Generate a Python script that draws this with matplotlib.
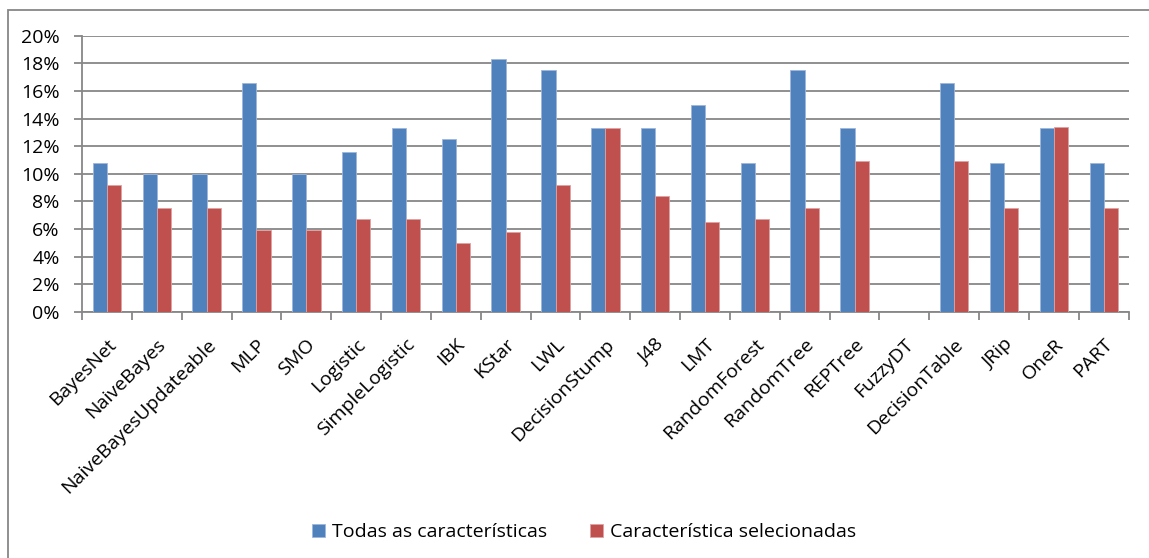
import matplotlib
matplotlib.use("Agg")
from matplotlib import pyplot as plt
from matplotlib.patches import Rectangle
from matplotlib.ticker import FuncFormatter, MultipleLocator
import matplotlib.transforms as mtransforms
import numpy as np

classifiers = ["BayesNet", "NaiveBayes", "NaiveBayesUpdateable", "MLP", "SMO",
               "Logistic", "SimpleLogistic", "IBK", "KStar", "LWL",
               "DecisionStump", "J48", "LMT", "RandomForest", "RandomTree",
               "REPTree", "FuzzyDT", "DecisionTable", "JRip", "OneR", "PART"]
todas = [10.8, 10.0, 10.0, 16.6, 10.0, 11.6, 13.3, 12.5, 18.3, 17.5,
         13.3, 13.3, 15.0, 10.8, 17.5, 13.3, 0.0, 16.6, 10.8, 13.3, 10.8]
selecionadas = [9.2, 7.5, 7.5, 5.9, 5.9, 6.7, 6.7, 5.0, 5.8, 9.2,
                13.3, 8.4, 6.5, 6.7, 7.5, 10.9, 0.0, 10.9, 7.5, 13.4, 7.5]
series_names = ["Todas as características", "Característica selecionadas"]

plt.rcParams["font.family"] = ["Open Sans", "DejaVu Sans"]
blue = "#4F81BD"
red = "#C0504D"
gray = "#878787"

fig = plt.figure(figsize=(11.49, 5.58), dpi=100)
ax = fig.add_axes([82 / 1149, 1 - 311.7 / 558, (1128.7 - 82) / 1149, (311.7 - 35.7) / 558])

x = np.arange(len(classifiers))
w = 1 / 3.5
b1 = ax.bar(x - w / 2, todas, w, color=blue, edgecolor="#9DB6DA", linewidth=0.6,
            label=series_names[0], zorder=3)
b2 = ax.bar(x + w / 2, selecionadas, w, color=red, edgecolor="#DDA3A2", linewidth=0.6,
            label=series_names[1], zorder=3)

ax.set_xlim(-0.5, len(classifiers) - 0.5)
ax.set_ylim(0, 20)
ax.yaxis.set_major_locator(MultipleLocator(2))
ax.yaxis.set_major_formatter(FuncFormatter(lambda v, p: f"{v:.0f}%"))
ax.grid(axis="y", color=gray, linewidth=1.3, zorder=0)
ax.set_axisbelow(True)

for side in ["top", "right"]:
    ax.spines[side].set_visible(False)
for side in ["left", "bottom"]:
    ax.spines[side].set_color(gray)
    ax.spines[side].set_linewidth(1.3)

# category boundaries carry the tick marks, labels sit at the centres
ax.set_xticks(np.arange(len(classifiers) + 1) - 0.5)
ax.set_xticklabels([])
ax.set_xticks(x, minor=True)
labels = ax.set_xticklabels(classifiers, minor=True, rotation=45, ha="right",
                            rotation_mode="anchor", fontsize=14)
shift = mtransforms.ScaledTranslation(-4 / 100, 0, fig.dpi_scale_trans)
for lab in labels:
    lab.set_transform(lab.get_transform() + shift)
ax.tick_params(axis="x", which="minor", length=0, pad=17)
ax.tick_params(axis="x", which="major", length=6, width=1.3, color=gray)
ax.tick_params(axis="y", length=6, width=1.3, color=gray, labelsize=14, pad=10)

fig.legend(handles=[b1, b2], loc="center", bbox_to_anchor=(584.5 / 1149, 1 - 532 / 558),
           ncol=2, frameon=False, fontsize=14, handlelength=0.67, handleheight=0.67,
           handletextpad=0.36, columnspacing=2.2)

# outer chart border
fig.patches.append(Rectangle((8 / 1149, -0.1), 1.2, 1.1 - 10 / 558, transform=fig.transFigure,
                             fill=False, edgecolor=gray, linewidth=1.3))

fig.savefig("out.png", dpi=100, facecolor="white")
